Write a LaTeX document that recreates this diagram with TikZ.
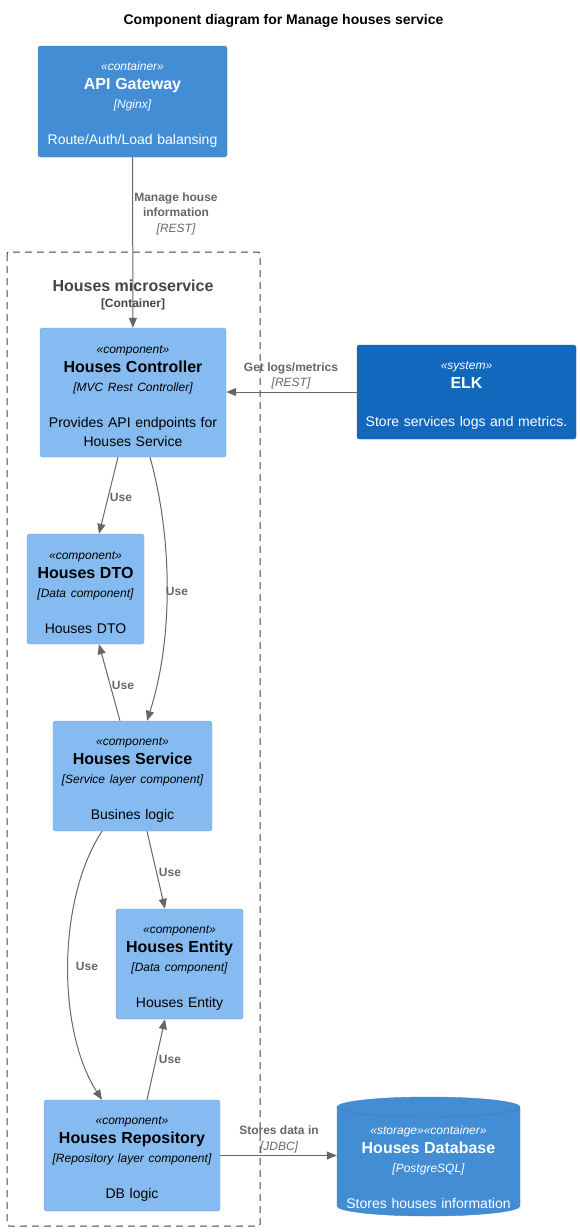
\documentclass[tikz,border=0pt]{standalone}
\usepackage{fontspec}
\setmainfont{Liberation Sans}
\usepackage{tikz}
\usetikzlibrary{arrows.meta}
\definecolor{contblue}{HTML}{438DD5}
\definecolor{compblue}{HTML}{85BBF0}
\definecolor{sysblue}{HTML}{1168BD}
\definecolor{relgray}{HTML}{666666}
\definecolor{bndgray}{HTML}{444444}
\newcommand{\elem}[4]{\rule{0pt}{15pt}{\fontsize{12}{19}\itshape\selectfont «#1»}\\{\fontsize{16}{19}\bfseries\selectfont #2}\\{\fontsize{12}{19}\itshape\selectfont [#3]}\\[17pt]#4}

\begin{document}
\begin{tikzpicture}[x=1pt, y=-1pt]
        \useasboundingbox (0,0) rectangle (580,1232);
        \tikzset{elbox/.style={rectangle, rounded corners=2.5, inner xsep=0, inner ysep=0, align=center, font=\fontsize{14}{19}\selectfont}}
        \tikzset{cont/.style={elbox, fill=contblue, draw=contblue!90!black, text=white}}
        \tikzset{comp/.style={elbox, fill=compblue, draw=compblue!90!black, text=black}}
        \tikzset{sys/.style={elbox, fill=sysblue, draw=sysblue!90!black, text=white}}
        \tikzset{rel/.style={draw=relgray, line width=1, -{Triangle[length=10,width=8]}, relgray}}
        \tikzset{lbl/.style={text=relgray, align=center, inner sep=0, font=\bfseries\fontsize{12}{15.5}\selectfont}}
        \node[font=\bfseries\fontsize{14}{17}\selectfont] (title) at (283.5,21) {Component diagram for Manage houses service};
        % boundary
        \draw[bndgray, line width=1, dash pattern=on 7 off 5, rounded corners=2] (7,252) rectangle (260,1226);
        \node[lbl, text=bndgray, font=\bfseries\fontsize{16}{19}\selectfont] (bndname) at (133,285.5) {Houses microservice};
        \node[lbl, text=bndgray] (bndtype) at (133,304.5) {[Container]};
        % elements
        \node[cont, text width=189, minimum height=111] (gw) at (132.5,101.5) {\elem{container}{API Gateway}{Nginx}{Route/Auth/Load balansing}};
        \node[comp, text width=186, minimum height=129] (ctrl) at (133,392.5) {\elem{component}{Houses Controller}{MVC Rest Controller}{Provides API endpoints for\\Houses Service}};
        \node[sys, text width=219, minimum height=94] (elk) at (466.5,392) {\rule{0pt}{15pt}{\fontsize{12}{19}\itshape\selectfont «system»}\\{\fontsize{16}{19}\bfseries\selectfont ELK}\\[19pt]Store services logs and metrics.};
        \node[comp, text width=117, minimum height=110] (dto) at (85.5,589) {\elem{component}{Houses DTO}{Data component}{Houses DTO}};
        \node[comp, text width=159, minimum height=110] (svc) at (132.5,776) {\elem{component}{Houses Service}{Service layer component}{Busines logic}};
        \node[comp, text width=127, minimum height=110] (ent) at (179.5,964) {\elem{component}{Houses Entity}{Data component}{Houses Entity}};
        \node[comp, text width=176, minimum height=111] (repo) at (132,1155.5) {\elem{component}{Houses Repository}{Repository layer component}{DB logic}};
        % database cylinder
        \filldraw[fill=contblue, draw=contblue!90!black] (337,1107) -- (337,1206) arc[start angle=180, end angle=0, x radius=91.5, y radius=10] -- (520,1107) arc[start angle=0, end angle=-180, x radius=91.5, y radius=10] -- cycle;
        \draw[contblue!85!black] (337,1107) arc[start angle=180, end angle=0, x radius=91.5, y radius=10];
        \node[elbox, text=white, text width=183, minimum height=102] (db) at (428.5,1164) {\rule{0pt}{15pt}{\fontsize{12}{19}\itshape\selectfont «storage»«container»}\\{\fontsize{16}{19}\bfseries\selectfont Houses Database}\\{\fontsize{12}{19}\itshape\selectfont [PostgreSQL]}\\[17pt]Stores houses information};
        % relations
        \draw[rel] (gw) -- (ctrl);
        \node[lbl] (lgw) at (176,213.5) {Manage house\\information\\{\mdseries\itshape [REST]}};
        \draw[rel] (elk.west) -- (elk.west -| ctrl.east);
        \node[lbl] (lelk) at (291,376) {Get logs/metrics\\{\mdseries\itshape [REST]}};
        \draw[rel] ([xshift=-15]ctrl.south) -- ([xshift=13.5]dto.north);
        \node[lbl] (use1) at (121,497) {Use};
        \draw[rel] ([xshift=17]ctrl.south) .. controls (173,540) and (173,640) .. ([xshift=14.5]svc.north);
        \node[lbl] (use2) at (177,591) {Use};
        \draw[rel] ([xshift=-12.5]svc.north) -- ([xshift=13.5]dto.south);
        \node[lbl] (use3) at (123,685) {Use};
        \draw[rel] ([xshift=14.5]svc.south) -- ([xshift=-14.5]ent.north);
        \node[lbl] (use4) at (170,872) {Use};
        \draw[rel] ([xshift=-30.5]svc.south) .. controls (57,900) and (57,1030) .. ([xshift=-30]repo.north);
        \node[lbl] (use5) at (87,966) {Use};
        \draw[rel] ([xshift=15]repo.north) -- ([xshift=-14.5]ent.south);
        \node[lbl] (use6) at (170,1059) {Use};
        \draw[rel] (repo.east) -- (repo.east -| db.west);
        \node[lbl] (ldb) at (279,1139.5) {Stores data in\\{\mdseries\itshape [JDBC]}};
\end{tikzpicture}
\end{document}
